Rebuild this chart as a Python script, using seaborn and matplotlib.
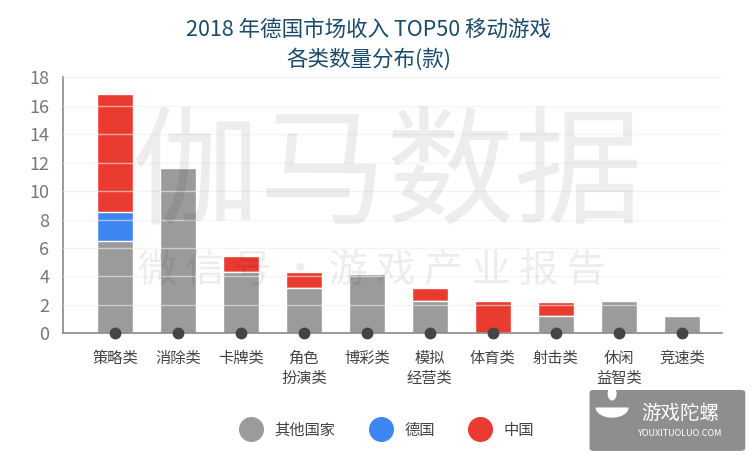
import numpy as np
import pandas as pd
from matplotlib import pyplot as plt
from matplotlib.lines import Line2D
from matplotlib.patches import FancyBboxPatch, Ellipse, Wedge
import seaborn as sns

# Data
categories = ['策略类', '消除类', '卡牌类', '角色\n扮演类', '博彩类',
              '模拟\n经营类', '体育类', '射击类', '休闲\n益智类', '竞速类']
other = [6.5, 11.6, 4.3, 3.2, 4.2, 2.3, 0.0, 1.25, 2.25, 1.2]
germany = [2.0, 0, 0, 0, 0, 0, 0, 0, 0, 0]
china = [8.3, 0, 1.1, 1.1, 0, 0.9, 2.25, 0.95, 0, 0]
series_names = ['其他国家', '德国', '中国']
colors = ['#9b9b9b', '#3d86f2', '#e93b2f']
yticks = [0, 2, 4, 6, 8, 10, 12, 14, 16, 18]

sns.set_theme(style='white')
plt.rcParams['font.family'] = ['Noto Sans CJK SC', 'DejaVu Sans']

df = pd.DataFrame({'cat': categories, 'other': other, 'germany': germany, 'china': china})
df['lvl1'] = df['other']
df['lvl2'] = df['other'] + df['germany']
df['lvl3'] = df['lvl2'] + df['china']

fig = plt.figure(figsize=(7.52, 4.62), dpi=100)
ax = fig.add_axes([0.0838, 0.2786, 0.876, 0.5541])

# stacked by overlaying cumulative totals
for col, c in zip(['lvl3', 'lvl2', 'lvl1'], colors[::-1]):
    sns.barplot(data=df, x='cat', y=col, order=categories, color=c,
                width=0.57, saturation=1, ax=ax, zorder=2)

ax.set_xlim(-0.825, 9.635)
ax.set_ylim(0, 18)
ax.set_yticks(yticks)
ax.set_xlabel('')
ax.set_ylabel('')
for y in yticks[1:]:
    ax.axhline(y, color='#eeeeee', lw=1, alpha=0.6, zorder=3)

# dark dots on the baseline
ax.plot(range(len(categories)), [0] * len(categories), 'o', color='#444444',
        markersize=7.5, clip_on=False, zorder=5)

for s in ['top', 'right']:
    ax.spines[s].set_visible(False)
for s in ['left', 'bottom']:
    ax.spines[s].set_color('#888888')
    ax.spines[s].set_linewidth(1.2)
ax.tick_params(axis='y', labelsize=13, labelcolor='#777777', length=0, pad=10)
ax.tick_params(axis='x', labelsize=11, labelcolor='#444444', length=0, pad=12)

fig.text(0.49, 0.935, '2018 年德国市场收入 TOP50 移动游戏', ha='center', va='center',
         fontsize=15.5, color='#1a4b6b', fontweight='medium')
fig.text(0.49, 0.872, '各类数量分布(款)', ha='center', va='center',
         fontsize=15.5, color='#1a4b6b', fontweight='medium')

handles = [Line2D([], [], marker='o', ls='', markersize=17, color=c) for c in colors]
fig.legend(handles, series_names, loc='center', bbox_to_anchor=(0.512, 0.069), ncol=3,
           frameon=False, fontsize=11, handletextpad=0.5, columnspacing=2.0,
           labelcolor='#444444')

# watermark
fig.text(0.514, 0.615, '伽马数据', ha='center', va='center', fontsize=92,
         color='black', alpha=0.07, zorder=10)
fig.text(0.495, 0.415, '微 信 号 · 游 戏 产 业 报 告', ha='center', va='center',
         fontsize=28, color='black', alpha=0.07, zorder=10)

# corner logo
fig.patches.append(FancyBboxPatch((0.79, 0.03), 0.195, 0.12, boxstyle='round,pad=0.006',
                                  transform=fig.transFigure, fc='#8e8e8e', ec='none'))
fig.patches.append(Wedge((0.814, 0.118), 0.022, 180, 360, transform=fig.transFigure,
                         fc='white', ec='none'))
fig.patches.append(Ellipse((0.814, 0.148), 0.012, 0.03, transform=fig.transFigure,
                           fc='white', ec='none'))
fig.text(0.905, 0.105, '游戏陀螺', ha='center', va='center', fontsize=14, color='white')
fig.text(0.905, 0.062, 'YOUXITUOLUO.COM', ha='center', va='center', fontsize=6.5, color='white')

plt.savefig('out.png', dpi=100)
